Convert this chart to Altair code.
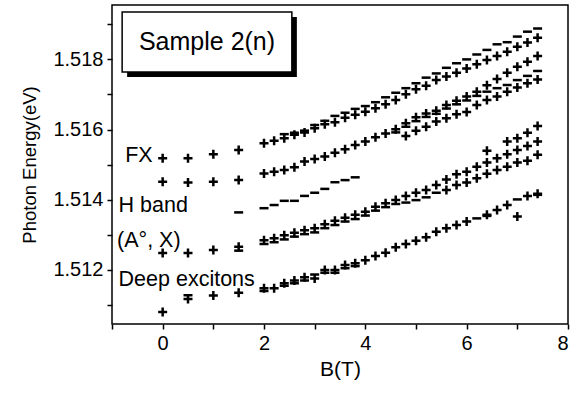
import altair as alt
import pandas as pd

# ---------------- data ----------------
B_LOW = [0.0, 0.5, 1.0, 1.5]
B_HIGH = [2.0, 2.2, 2.4, 2.6, 2.8, 3.0, 3.2, 3.4, 3.6, 3.8, 4.0, 4.2, 4.4, 4.6,
          4.8, 5.0, 5.2, 5.4, 5.6, 5.8, 6.0, 6.2, 6.4, 6.6, 6.8, 7.0, 7.2, 7.4]

# FX, sigma+ ("+")
FX_P_B = B_LOW + B_HIGH
FX_P_E = [1.51518, 1.51518, 1.51530, 1.51542,
          1.51561, 1.51568, 1.51575, 1.51585, 1.51592, 1.51604, 1.51615, 1.51621,
          1.51634, 1.51642, 1.51651, 1.51661, 1.51672, 1.51684, 1.51701, 1.51715,
          1.51725, 1.51741, 1.51751, 1.51762, 1.51774, 1.51786, 1.51798, 1.51810,
          1.51822, 1.51836, 1.51848, 1.51862]
# FX, sigma- ("−")
FX_M_B = [2.4, 2.6, 2.8, 3.0, 3.2, 3.4, 3.6, 3.8, 4.0, 4.2, 4.4, 4.6, 4.8, 5.0,
          5.2, 5.4, 5.6, 5.8, 6.0, 6.2, 6.4, 6.6, 6.8, 7.0, 7.2, 7.4]
FX_M_E = [1.51587, 1.51591, 1.51597, 1.51613, 1.51625, 1.51639, 1.51648, 1.51659,
          1.51667, 1.51678, 1.51692, 1.51705, 1.51718, 1.51732, 1.51748, 1.51760,
          1.51776, 1.51789, 1.51800, 1.51814, 1.51827, 1.51843, 1.51849, 1.51865,
          1.51879, 1.51888]

# second band, upper "+"
B2U_B = B_LOW + B_HIGH
B2U_E = [1.51451, 1.51449, 1.51451, 1.51456,
         1.51475, 1.51480, 1.51485, 1.51493, 1.51509, 1.51516, 1.51523, 1.51534,
         1.51544, 1.51556, 1.51566, 1.51578, 1.51589, 1.51601, 1.51618, 1.51635,
         1.51646, 1.51654, 1.51670, 1.51682, 1.51694, 1.51708, 1.51726, 1.51744,
         1.51762, 1.51779, 1.51793, 1.51810]
# second band, "−"
B2M_B = [4.6, 4.8, 5.0, 5.2, 5.4, 5.6, 5.8, 6.0, 6.2, 6.4, 6.6, 6.8, 7.0, 7.2, 7.4]
B2M_E = [1.51592, 1.51608, 1.51624, 1.51636, 1.51645, 1.51660, 1.51672, 1.51683,
         1.51696, 1.51708, 1.51718, 1.51727, 1.51741, 1.51753, 1.51767]
# second band, lower "+"
B2L_B = [4.8, 5.0, 5.2, 5.4, 5.6, 5.8, 6.0, 6.2, 6.4, 6.6, 6.8, 7.0, 7.2, 7.4]
B2L_E = [1.51582, 1.51597, 1.51608, 1.51623, 1.51632, 1.51644, 1.51650, 1.51670,
         1.51684, 1.51694, 1.51708, 1.51720, 1.51732, 1.51743]

# H band ("−")
HB_B = [1.5, 2.0, 2.2, 2.4, 2.6, 2.8, 3.0, 3.2, 3.4, 3.6, 3.8]
HB_E = [1.51364, 1.51376, 1.51385, 1.51397, 1.51397, 1.51411, 1.51420, 1.51431,
        1.51450, 1.51456, 1.51464]

# (A0, X) "+" main line
AX_P_B = B_LOW + B_HIGH
AX_P_E = [1.51248, 1.51248, 1.51257, 1.51266,
          1.51285, 1.51290, 1.51299, 1.51306, 1.51313, 1.51319, 1.51330, 1.51340,
          1.51349, 1.51357, 1.51366, 1.51380, 1.51390, 1.51399, 1.51411, 1.51420,
          1.51428, 1.51442, 1.51458, 1.51473, 1.51480, 1.51494, 1.51506, 1.51518,
          1.51530, 1.51542, 1.51553, 1.51566]
# (A0, X) "−"
AX_M_B = [1.5, 2.0, 2.2, 2.4, 2.6, 2.8, 3.0, 3.2, 3.4, 3.6, 3.8, 4.0, 4.2, 4.4,
          4.6, 4.8, 5.0, 5.2, 5.4]
AX_M_E = [1.51255, 1.51274, 1.51279, 1.51287, 1.51295, 1.51302, 1.51307, 1.51319,
          1.51328, 1.51338, 1.51345, 1.51355, 1.51369, 1.51379, 1.51388, 1.51392,
          1.51399, 1.51407, 1.51420]
# (A0, X) lower "+"
AX_L_B = [5.6, 5.8, 6.0, 6.2, 6.4, 6.6, 6.8, 7.0, 7.2, 7.4]
AX_L_E = [1.51428, 1.51442, 1.51449, 1.51461, 1.51474, 1.51485, 1.51494, 1.51506,
          1.51511, 1.51528]
# (A0, X) upper "+"
AX_U_B = [6.4, 6.8, 7.0, 7.2, 7.4]
AX_U_E = [1.51540, 1.51566, 1.51575, 1.51591, 1.51610]

# Deep excitons "+"
DX_P_B = [0.0, 0.5, 1.0, 1.5, 2.0, 2.2, 2.4, 2.6, 2.8, 3.0, 3.2, 3.4, 3.6, 3.8,
          4.0, 4.2, 4.4, 4.6, 4.8, 5.0, 5.2, 5.4, 5.6, 5.8, 6.0, 6.4, 6.6, 6.8,
          7.0, 7.2, 7.4]
DX_P_E = [1.51080, 1.51117, 1.51127, 1.51135, 1.51148, 1.51148, 1.51162, 1.51170,
          1.51179, 1.51176, 1.51200, 1.51200, 1.51214, 1.51219, 1.51228, 1.51240,
          1.51249, 1.51265, 1.51274, 1.51283, 1.51293, 1.51309, 1.51319, 1.51328,
          1.51338, 1.51357, 1.51371, 1.51385, 1.51352, 1.51411, 1.51417]
# Deep excitons "−"
DX_M_B = [0.5, 2.0, 2.4, 2.6, 2.8, 3.0, 3.2, 3.4, 3.6, 3.8, 6.2, 6.4, 7.0, 7.4]
DX_M_E = [1.51128, 1.51140, 1.51155, 1.51162, 1.51170, 1.51187, 1.51192, 1.51192,
          1.51205, 1.51211, 1.51347, 1.51354, 1.51401, 1.51414]

SERIES = [
    ("FX+", "+", FX_P_B, FX_P_E), ("FX-", "−", FX_M_B, FX_M_E),
    ("B2U", "+", B2U_B, B2U_E), ("B2M", "−", B2M_B, B2M_E), ("B2L", "+", B2L_B, B2L_E),
    ("H", "−", HB_B, HB_E),
    ("AX+", "+", AX_P_B, AX_P_E), ("AX-", "−", AX_M_B, AX_M_E),
    ("AXL", "+", AX_L_B, AX_L_E), ("AXU", "+", AX_U_B, AX_U_E),
    ("DX+", "+", DX_P_B, DX_P_E), ("DX-", "−", DX_M_B, DX_M_E),
]

X_TICKS = [-1, 0, 1, 2, 3, 4, 5, 6, 7, 8]
X_LABELED = ["0", "2", "4", "6", "8"]
Y_TICKS = [1.511, 1.512, 1.513, 1.514, 1.515, 1.516, 1.517, 1.518, 1.519]
Y_LABELED = ["1.512", "1.514", "1.516", "1.518"]

LABELS = ["FX", "H band", "(A°, X)", "Deep excitons"]
LABEL_B = [-0.74, -0.87, -0.9, -0.87]
LABEL_E = [1.51525, 1.51383, 1.51283, 1.51172]

TITLE = "Sample 2(n)"
BOX_B = [-0.8, 2.55]
BOX_E = [1.51764, 1.51935]

X_DOMAIN = [-1, 8]
Y_DOMAIN = [1.51046, 1.51955]

# ---------------- build table ----------------
rows = []
for name, m, bs, es in SERIES:
    for b, e in zip(bs, es):
        rows.append({"series": name, "marker": m, "B": b, "E": e})
df = pd.DataFrame(rows)

FONT = "Liberation Sans"
PLUS = "M-1,0H1M0,-1V1"
MINUS = "M-1,0H1"

xscale = alt.Scale(domain=X_DOMAIN, nice=False, zero=False)
yscale = alt.Scale(domain=Y_DOMAIN, nice=False, zero=False)

x_lab_expr = "indexof([" + ",".join("'" + v + "'" for v in X_LABELED) + "], datum.label) >= 0 ? datum.label : ''"
y_lab_expr = "indexof([" + ",".join("'" + v + "'" for v in Y_LABELED) + "], datum.label) >= 0 ? datum.label : ''"

xaxis = alt.Axis(values=X_TICKS, format="d", labelExpr=x_lab_expr, title="B(T)", grid=False,
                 domain=False, tickColor="black", tickSize=5, tickWidth=1.5,
                 labelFontSize=20, labelFont=FONT, labelColor="black", labelPadding=4,
                 labelOverlap=False,
                 titleFontSize=21, titleFont=FONT, titleFontWeight="normal",
                 titleColor="black", titlePadding=5)
yaxis = alt.Axis(values=Y_TICKS, format=".3f", labelExpr=y_lab_expr, title="Photon Energy(eV)",
                 grid=False, domain=False, tickColor="black", tickSize=5, tickWidth=1.5,
                 labelFontSize=20, labelFont=FONT, labelColor="black", labelPadding=4,
                 labelOverlap=False,
                 titleFontSize=18.5, titleFont=FONT, titleFontWeight="normal",
                 titleColor="black", titlePadding=13)


def X(field):
    return alt.X(field, type="quantitative", scale=xscale, axis=xaxis)


def Y(field):
    return alt.Y(field, type="quantitative", scale=yscale, axis=yaxis)


points = alt.Chart(df).mark_point(filled=False, strokeWidth=2.5, size=81,
                                  color="black", opacity=1).encode(
    x=X("B"), y=Y("E"),
    shape=alt.Shape("marker:N", scale=alt.Scale(domain=["+", "−"], range=[PLUS, MINUS]),
                    legend=None),
)

lab_df = pd.DataFrame({"label": LABELS, "B": LABEL_B, "E": LABEL_E})
labels = alt.Chart(lab_df).mark_text(align="left", baseline="middle", fontSize=21.5,
                                     font=FONT, color="black").encode(
    x=X("B"), y=Y("E"), text="label:N")

box_df = pd.DataFrame({"b1": [BOX_B[0]], "b2": [BOX_B[1]], "e1": [BOX_E[0]],
                       "e2": [BOX_E[1]], "t": [TITLE],
                       "bc": [(BOX_B[0] + BOX_B[1]) / 2], "ec": [(BOX_E[0] + BOX_E[1]) / 2]})
shadow = alt.Chart(box_df).mark_rect(color="black", xOffset=5, yOffset=5,
                                     x2Offset=5, y2Offset=5).encode(
    x=X("b1"), x2="b2:Q", y=Y("e1"), y2="e2:Q")
box = alt.Chart(box_df).mark_rect(fill="white", stroke="black", strokeWidth=1.5).encode(
    x=X("b1"), x2="b2:Q", y=Y("e1"), y2="e2:Q")
box_text = alt.Chart(box_df).mark_text(fontSize=25, font=FONT, color="black",
                                       align="center", baseline="middle").encode(
    x=X("bc"), y=Y("ec"), text="t:N")

chart = alt.layer(points, shadow, box, box_text, labels).properties(
    width=456, height=319,
    padding={"left": 112, "top": 5, "right": 17, "bottom": 70},
    autosize=alt.AutoSizeParams(type="none"),
    background="white",
).configure_view(stroke="black", strokeWidth=1.5)

chart.save("out.html", embed_options={"renderer": "svg", "actions": False})
